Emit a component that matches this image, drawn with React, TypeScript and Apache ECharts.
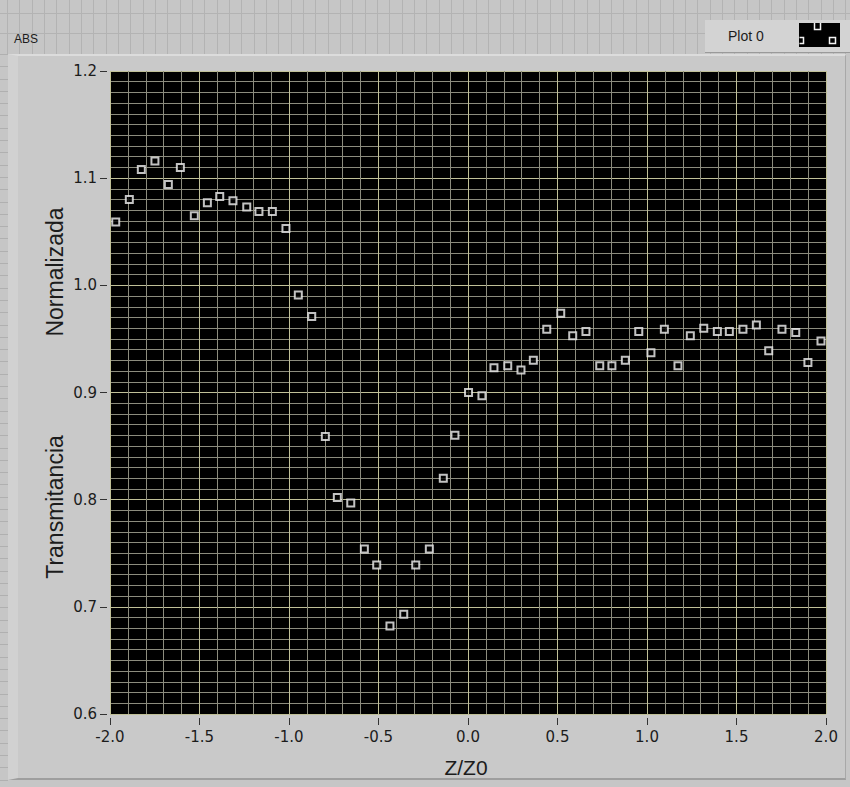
import React, { useEffect, useRef } from "react";
import * as echarts from "echarts";

// ---- data ----
const zValues = [
  -1.968, -1.892, -1.825, -1.749, -1.674, -1.607, -1.529, -1.456, -1.387, -1.313,
  -1.236, -1.168, -1.093, -1.017, -0.948, -0.873, -0.797, -0.73, -0.655, -0.579,
  -0.51, -0.436, -0.359, -0.292, -0.216, -0.138, -0.073, 0.003, 0.078, 0.145,
  0.222, 0.296, 0.365, 0.44, 0.518, 0.585, 0.659, 0.736, 0.804, 0.879,
  0.954, 1.022, 1.097, 1.173, 1.242, 1.317, 1.393, 1.46, 1.536, 1.611,
  1.68, 1.754, 1.831, 1.899, 1.972,
];
const transValues = [
  1.059, 1.08, 1.108, 1.116, 1.094, 1.11, 1.065, 1.077, 1.083, 1.079,
  1.073, 1.069, 1.069, 1.053, 0.991, 0.971, 0.859, 0.802, 0.797, 0.754,
  0.739, 0.682, 0.693, 0.739, 0.754, 0.82, 0.86, 0.9, 0.897, 0.923,
  0.925, 0.921, 0.93, 0.959, 0.974, 0.953, 0.957, 0.925, 0.925, 0.93,
  0.957, 0.937, 0.959, 0.925, 0.953, 0.96, 0.957, 0.957, 0.959, 0.963,
  0.939, 0.959, 0.956, 0.928, 0.948,
];
const xMin = -2.0;
const xMax = 2.0;
const xInterval = 0.5;
const yMin = 0.6;
const yMax = 1.2;
const yInterval = 0.1;
const seriesName = "Plot 0";
const graphTitle = "ABS";
const xTitle = "Z/Z0";
const yTitleLower = "Transmitancia";
const yTitleUpper = "Normalizada";

const TXT = "#1c1c1c";
const MINOR = "#8c8c7e";
const MAJOR = "#c0c098";

export default function App() {
  const ref = useRef<HTMLDivElement>(null);

  useEffect(() => {
    if (!ref.current) return;
    const chart = echarts.init(ref.current, null, { renderer: "svg" });
    const data = zValues.map((z, i) => [z, transValues[i]]);
    chart.setOption({
      animation: false,
      backgroundColor: "transparent",
      grid: {
        left: 110,
        right: 24,
        top: 71,
        bottom: 73,
        show: true,
        backgroundColor: "#000",
        borderWidth: 0,
      },
      xAxis: {
        type: "value",
        min: xMin,
        max: xMax,
        interval: xInterval,
        offset: 4,
        axisLine: { show: false, onZero: false },
        axisTick: { show: true, length: 7, lineStyle: { color: "#333", width: 1 } },
        axisLabel: {
          margin: 11,
          color: TXT,
          fontFamily: "DejaVu Sans",
          fontSize: 15,
          formatter: (v: number) => v.toFixed(1),
        },
        splitLine: { show: true, lineStyle: { color: MAJOR, width: 1 } },
        minorTick: { show: false, splitNumber: 5 },
        minorSplitLine: { show: true, lineStyle: { color: MINOR, width: 1 } },
      },
      yAxis: {
        type: "value",
        min: yMin,
        max: yMax,
        interval: yInterval,
        offset: 3,
        axisLine: { show: false, onZero: false },
        axisTick: { show: true, length: 7, lineStyle: { color: "#333", width: 1 } },
        axisLabel: {
          margin: 10,
          color: TXT,
          fontFamily: "DejaVu Sans",
          fontSize: 15,
          formatter: (v: number) => v.toFixed(1),
        },
        splitLine: { show: true, lineStyle: { color: MAJOR, width: 1 } },
        minorTick: { show: false, splitNumber: 10 },
        minorSplitLine: { show: true, lineStyle: { color: MINOR, width: 1 } },
      },
      series: [
        {
          name: seriesName,
          type: "scatter",
          data,
          symbol: "rect",
          symbolSize: 7,
          itemStyle: { color: "#000", borderColor: "#f2f2f2", borderWidth: 2 },
          z: 5,
        },
      ],
      graphic: [
        {
          type: "text",
          x: 14,
          y: 39,
          style: {
            text: graphTitle,
            fill: TXT,
            font: "12px 'Liberation Sans', Arial, sans-serif",
            verticalAlign: "middle",
            textVerticalAlign: "middle",
          },
        },
        {
          type: "rect",
          shape: { x: 705, y: 20, width: 150, height: 32 },
          style: { fill: "#d3d3d3" },
        },
        {
          type: "line",
          shape: { x1: 705, y1: 52.5, x2: 850, y2: 52.5 },
          style: { stroke: "#9a9a9a", lineWidth: 1 },
        },
        {
          type: "text",
          x: 728,
          y: 36,
          style: {
            text: seriesName,
            fill: TXT,
            font: "14px 'Liberation Sans', Arial, sans-serif",
            verticalAlign: "middle",
            textVerticalAlign: "middle",
          },
        },
        {
          type: "rect",
          shape: { x: 799, y: 23, width: 41, height: 24 },
          style: { fill: "#000" },
        },
        {
          type: "polyline",
          shape: { points: [[799.5, 37.5], [803.5, 37.5], [803.5, 43.5], [799.5, 43.5]] },
          style: { stroke: "#f2f2f2", lineWidth: 1.5, fill: "none" },
        },
        {
          type: "polyline",
          shape: { points: [[814.5, 23], [814.5, 29.5], [820.5, 29.5], [820.5, 23]] },
          style: { stroke: "#f2f2f2", lineWidth: 1.5, fill: "none" },
        },
        {
          type: "rect",
          shape: { x: 829.5, y: 37.5, width: 6, height: 6 },
          style: { stroke: "#f2f2f2", lineWidth: 1.5, fill: "none" },
        },
        {
          type: "text",
          x: 55,
          y: 272,
          rotation: Math.PI / 2,
          style: {
            text: yTitleUpper,
            fill: TXT,
            font: "23px 'Liberation Sans', Arial, sans-serif",
            align: "center",
            verticalAlign: "middle",
            textAlign: "center",
            textVerticalAlign: "middle",
          },
        },
        {
          type: "text",
          x: 55,
          y: 507,
          rotation: Math.PI / 2,
          style: {
            text: yTitleLower,
            fill: TXT,
            font: "23px 'Liberation Sans', Arial, sans-serif",
            align: "center",
            verticalAlign: "middle",
            textAlign: "center",
            textVerticalAlign: "middle",
          },
        },
        {
          type: "text",
          x: 466,
          y: 767,
          style: {
            text: xTitle,
            fill: TXT,
            font: "21px 'Liberation Sans', Arial, sans-serif",
            align: "center",
            verticalAlign: "middle",
            textAlign: "center",
            textVerticalAlign: "middle",
          },
        },
      ],
    });
    return () => chart.dispose();
  }, []);

  return (
    <div
      style={{
        position: "fixed",
        left: 0,
        top: 0,
        width: 850,
        height: 787,
        overflow: "hidden",
        background: "#c6c6c6",
      }}
    >
      {/* front-panel grid in the top band */}
      <div
        style={{
          position: "absolute",
          left: 0,
          top: 0,
          width: 850,
          height: 54,
          backgroundImage:
            "repeating-linear-gradient(90deg, #b3b3b3 0px, #b3b3b3 1px, transparent 1px, transparent 12.33px)",
          backgroundPosition: "7px 0",
        }}
      />
      <div style={{ position: "absolute", left: 0, top: 13, width: 850, height: 1, background: "#b3b3b3" }} />
      <div style={{ position: "absolute", left: 0, top: 33, width: 850, height: 1, background: "#b3b3b3" }} />
      {/* left strip grid dashes */}
      <div
        style={{
          position: "absolute",
          left: 0,
          top: 54,
          width: 8,
          height: 733,
          backgroundImage:
            "repeating-linear-gradient(180deg, #b0b0b0 0px, #b0b0b0 1px, transparent 1px, transparent 12.3px)",
        }}
      />
      {/* graph panel */}
      <div
        style={{
          position: "absolute",
          left: 8,
          top: 54,
          width: 838,
          height: 726,
          boxSizing: "border-box",
          background: "#c9c9c9",
          borderTop: "2px solid #dcdcdc",
          borderLeft: "10px solid #d1d1d1",
          borderBottom: "2px solid #9e9e9e",
          borderRight: "1px solid #a8a8a8",
        }}
      />
      <div
        ref={ref}
        style={{ position: "absolute", left: 0, top: 0, width: 850, height: 787 }}
      />
    </div>
  );
}
